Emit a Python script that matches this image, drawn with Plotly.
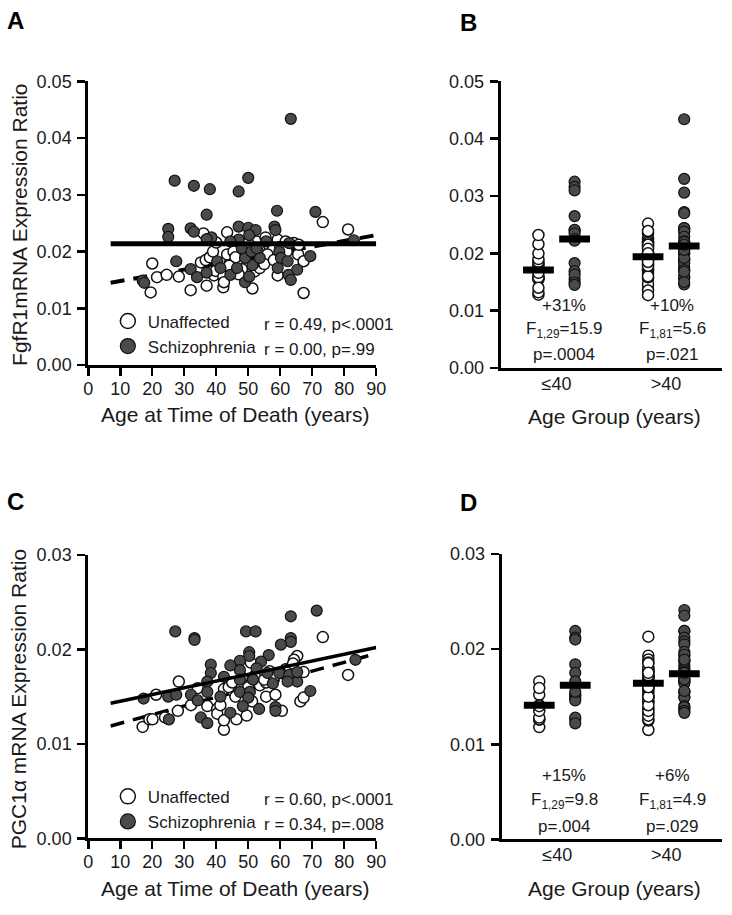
import plotly.graph_objects as go

W, H = 732, 915

# ---------------- Data: FgfR1 (panel A / B) ----------------
ctrl_age_A = [20, 19.5, 21.5, 24.5, 28.3, 32, 35.2, 36.7, 39.3, 39.8, 38, 39, 40, 37, 36,
              43.4, 42.2, 42.2, 42.4, 43.4, 45.4, 48, 51.3, 52, 52.6, 53.6, 54.6, 55.4, 56.4,
              57.2, 57.7, 59.2, 59.2, 61.7, 64.3, 65.6, 65.8, 67.3, 67.3, 73.3, 81.2,
              46, 48, 50, 53, 56, 60, 62, 44, 47, 55, 58]
ctrl_val_A = [0.0179, 0.0128, 0.0155, 0.0159, 0.0156, 0.0132, 0.0181, 0.0185, 0.0158, 0.0166, 0.0190, 0.0200, 0.0216, 0.0140, 0.0232,
              0.0234, 0.0156, 0.0137, 0.0146, 0.0195, 0.0200, 0.0169, 0.0135, 0.0165, 0.0218, 0.0171, 0.0180, 0.0225, 0.0212,
              0.0189, 0.0203, 0.0158, 0.0221, 0.0218, 0.0215, 0.0195, 0.0212, 0.0183, 0.0127, 0.0252, 0.0239,
              0.0190, 0.0210, 0.0215, 0.0200, 0.0195, 0.0208, 0.0200, 0.0175, 0.0160, 0.0178, 0.0185]
sz_age_A = [63.3, 27, 33, 38, 47, 50, 37, 59, 71, 25, 25, 32, 33, 38.5, 47, 50, 52.3, 58.2, 58.5,
            50.3, 47, 44.4, 55.6, 83, 27.5, 32, 34, 37, 40.3, 41.3, 44.4, 46.5, 49, 50.3, 51.3, 53.6,
            49, 48, 51, 59.7, 60.2, 62.3, 59.2, 62.6, 63.3, 65.3, 69.4, 17, 17.5, 37, 52.6, 62.8]
sz_val_A = [0.0434, 0.0325, 0.0316, 0.0310, 0.0306, 0.0330, 0.0265, 0.0272, 0.0270, 0.0240, 0.0226, 0.0241, 0.0235, 0.0225,
            0.0244, 0.0242, 0.0238, 0.0244, 0.0238, 0.0229, 0.0221, 0.0218, 0.0218, 0.0220, 0.0183, 0.0169, 0.0155, 0.0163,
            0.0183, 0.0171, 0.0159, 0.0171, 0.0146, 0.0156, 0.0176, 0.0189, 0.0189, 0.0206, 0.0200, 0.0200, 0.0189, 0.0183,
            0.0171, 0.0159, 0.0150, 0.0168, 0.0192, 0.0149, 0.0145, 0.0222, 0.0206, 0.0215]
fit_age = [7, 90]
ctrl_fit_A = [0.0145, 0.0229]
sz_fit_A = [0.0214, 0.0214]

# ---------------- Data: PGC1a (panel C / D) ----------------
ctrl_age_C = [73.3, 81.2, 65.3, 64.3, 67.3, 66.3, 67.3, 28.3, 21.2, 17, 19.1, 20.1, 24, 28, 32.1, 37.2,
              40.3, 40.3, 42.4, 42.4, 46.3, 49.5, 60.5, 55.6, 58.5, 51.2, 45.4, 42.4, 53.6, 56.7, 61.7,
              50.8, 34.2, 43.9, 55.6, 41.3, 45, 48, 52, 55, 58, 62, 46, 50, 63, 64, 60]
ctrl_val_C = [0.0213, 0.0173, 0.0193, 0.0189, 0.0176, 0.0145, 0.0149, 0.0166, 0.0152, 0.0118, 0.0126, 0.0126, 0.0128, 0.0135, 0.0141, 0.0140,
              0.0137, 0.0132, 0.0115, 0.0125, 0.0126, 0.0130, 0.0135, 0.0150, 0.0152, 0.0145, 0.0155, 0.0158, 0.0162, 0.0177, 0.0179,
              0.0186, 0.0159, 0.0160, 0.0165, 0.0141, 0.0165, 0.0170, 0.0172, 0.0168, 0.0170, 0.0172, 0.0150, 0.0160, 0.0180, 0.0185, 0.0175]
sz_age_C = [71.4, 63.3, 27.2, 33.2, 33.2, 49.3, 52.3, 63.3, 63.3, 60.2, 50.3, 50.3, 56.4, 47.4, 54, 38.3, 44.4,
            38.3, 52.6, 47.4, 42.4, 51.5, 59.7, 62.8, 65.3, 62.3, 57.7, 37.2, 47.4, 17.3, 25, 27.5, 32.1, 34.2,
            41.3, 37.2, 47.4, 50.5, 50, 48.3, 53.4, 58.5, 58.5, 44.4, 25.2, 35.2, 37.2, 69.4, 83.5, 65.3, 56]
sz_val_C = [0.0241, 0.0235, 0.0219, 0.0212, 0.0210, 0.0219, 0.0219, 0.0212, 0.0208, 0.0205, 0.0197, 0.0193, 0.0194, 0.0188, 0.0187, 0.0184, 0.0183,
            0.0175, 0.0180, 0.0178, 0.0171, 0.0168, 0.0175, 0.0173, 0.0166, 0.0166, 0.0164, 0.0166, 0.0168, 0.0148, 0.0150, 0.0152, 0.0152, 0.0146,
            0.0150, 0.0155, 0.0155, 0.0155, 0.0149, 0.0140, 0.0137, 0.0139, 0.0135, 0.0133, 0.0126, 0.0128, 0.0122, 0.0156, 0.0189, 0.0176, 0.0175]
ctrl_fit_C = [0.0119, 0.01955]
sz_fit_C = [0.0143, 0.0202]

# ---------------- Group summaries (panels B / D) ----------------
group_labels = ["≤40", ">40"]
age_cut = 40
ctrl_mean_B = [0.0171, 0.0194]
sz_mean_B = [0.0225, 0.0213]
ctrl_mean_D = [0.0141, 0.0164]
sz_mean_D = [0.0162, 0.0174]
pct_B = ["+31%", "+10%"]
F_B = ["F<sub>1,29</sub>=15.9", "F<sub>1,81</sub>=5.6"]
p_B = ["p=.0004", "p=.021"]
pct_D = ["+15%", "+6%"]
F_D = ["F<sub>1,29</sub>=9.8", "F<sub>1,81</sub>=4.9"]
p_D = ["p=.004", "p=.029"]
r_A = ["r = 0.49, p<.0001", "r = 0.00, p=.99"]
r_C = ["r = 0.60, p<.0001", "r = 0.34, p=.008"]
series_names = ["Unaffected", "Schizophrenia"]

# ---------------- styling ----------------
FONT = "Liberation Sans, Arial, sans-serif"
TXT = "#1a1a1a"
CTRL_MK = dict(size=11, color="white", line=dict(color="#111", width=1.5))
SZ_MK = dict(size=11, color="#4a4a4a", line=dict(color="#111", width=1.2))
OFF = 0.165


def px(x):
    return x / W


def py(y):
    return 1 - y / H


def split(ages, vals):
    lo = [v for a, v in zip(ages, vals) if a <= age_cut]
    hi = [v for a, v in zip(ages, vals) if a > age_cut]
    return lo, hi


fig = go.Figure()


def scatter_panel(xa, ya, ca, cv, sa, sv, cfit, sfit, dashw, solidw, legend):
    fig.add_trace(go.Scatter(x=fit_age, y=cfit, mode="lines", xaxis=xa, yaxis=ya,
                             line=dict(color="black", width=dashw, dash="14px,9px"), showlegend=False))
    fig.add_trace(go.Scatter(x=ca, y=cv, mode="markers", xaxis=xa, yaxis=ya, marker=CTRL_MK, showlegend=False))
    fig.add_trace(go.Scatter(x=sa, y=sv, mode="markers", xaxis=xa, yaxis=ya, marker=SZ_MK, showlegend=False))
    fig.add_trace(go.Scatter(x=fit_age, y=sfit, mode="lines", xaxis=xa, yaxis=ya,
                             line=dict(color="black", width=solidw), showlegend=False))
    # legend glyphs
    fig.add_trace(go.Scatter(x=[None], y=[None], mode="markers", xaxis=xa, yaxis=ya, name=series_names[0],
                             marker=dict(size=15, color="white", line=dict(color="#111", width=1.5)), legend=legend))
    fig.add_trace(go.Scatter(x=[None], y=[None], mode="markers", xaxis=xa, yaxis=ya, name=series_names[1],
                             marker=dict(size=15, color="#4a4a4a", line=dict(color="#111", width=1.2)), legend=legend))


def group_panel(xa, ya, ca, cv, sa, sv, cmean, smean):
    clo, chi = split(ca, cv)
    slo, shi = split(sa, sv)
    for gi, (cvals, svals) in enumerate([(clo, slo), (chi, shi)]):
        g = gi + 1
        fig.add_trace(go.Scatter(x=[g - OFF] * len(cvals), y=cvals, mode="markers", xaxis=xa, yaxis=ya,
                                 marker=CTRL_MK, showlegend=False))
        fig.add_trace(go.Scatter(x=[g + OFF] * len(svals), y=svals, mode="markers", xaxis=xa, yaxis=ya,
                                 marker=SZ_MK, showlegend=False))
    xs = [1 - OFF, 2 - OFF, 1 + OFF, 2 + OFF]
    fig.add_trace(go.Scatter(x=xs, y=cmean + smean, mode="markers", xaxis=xa, yaxis=ya,
                             marker=dict(symbol="line-ew", size=22, color="black",
                                         line=dict(color="black", width=7)), showlegend=False))


scatter_panel("x", "y", ctrl_age_A, ctrl_val_A, sz_age_A, sz_val_A, ctrl_fit_A, sz_fit_A, 4, 5, "legend")
group_panel("x2", "y2", ctrl_age_A, ctrl_val_A, sz_age_A, sz_val_A, ctrl_mean_B, sz_mean_B)
scatter_panel("x3", "y3", ctrl_age_C, ctrl_val_C, sz_age_C, sz_val_C, ctrl_fit_C, sz_fit_C, 3.5, 3.5, "legend2")
group_panel("x4", "y4", ctrl_age_C, ctrl_val_C, sz_age_C, sz_val_C, ctrl_mean_D, sz_mean_D)

ax_common = dict(showgrid=False, zeroline=False, showline=True, linecolor="black", linewidth=3,
                 tickcolor="black", tickwidth=2.5, ticklen=8, ticks="outside",
                 tickfont=dict(size=18, color=TXT, family=FONT))
xax = dict(ax_common, ticklabelstandoff=-3)
yax = dict(ax_common, ticklabelstandoff=2)

age_ticks = list(range(0, 91, 10))
fig.update_layout(
    xaxis=dict(xax, domain=[px(85), px(379)], range=[0, 90], tickvals=age_ticks, anchor="y"),
    yaxis=dict(yax, domain=[py(363), py(73)], range=[0, 0.05], tickvals=[0, 0.01, 0.02, 0.03, 0.04, 0.05],
               tickformat=".2f", anchor="x"),
    xaxis2=dict(xax, domain=[px(506), 1.0], range=[0.49, 2.51], tickvals=[1, 2], ticktext=group_labels,
                ticks="", anchor="y2"),
    yaxis2=dict(yax, domain=[py(366), py(73)], range=[0, 0.05], tickvals=[0, 0.01, 0.02, 0.03, 0.04, 0.05],
                tickformat=".2f", anchor="x2"),
    xaxis3=dict(xax, domain=[px(85), px(379)], range=[0, 90], tickvals=age_ticks, anchor="y3"),
    yaxis3=dict(yax, domain=[py(847), py(557)], range=[0, 0.03], tickvals=[0, 0.01, 0.02, 0.03],
                tickformat=".2f", anchor="x3"),
    xaxis4=dict(xax, domain=[px(507), 1.0], range=[0.49, 2.51], tickvals=[1, 2], ticktext=group_labels,
                ticks="", anchor="y4"),
    yaxis4=dict(yax, domain=[py(848), py(556)], range=[0, 0.03], tickvals=[0, 0.01, 0.02, 0.03],
                tickformat=".2f", anchor="x4"),
    width=W, height=H, margin=dict(l=0, r=0, t=0, b=0),
    paper_bgcolor="white", plot_bgcolor="white",
    font=dict(family=FONT, color=TXT, size=17),
    legend=dict(x=px(105), y=py(300), xanchor="left", yanchor="top", bgcolor="rgba(0,0,0,0)",
                font=dict(size=17, color=TXT, family=FONT), itemsizing="trace", tracegroupgap=0),
    legend2=dict(x=px(105), y=py(786), xanchor="left", yanchor="top", bgcolor="rgba(0,0,0,0)",
                 font=dict(size=17, color=TXT, family=FONT), itemsizing="trace", tracegroupgap=0),
)

ann = []


def text(x, y, s, size=17, xanchor="center", angle=0, bold=False):
    ann.append(dict(x=px(x), y=py(y), xref="paper", yref="paper", text=("<b>%s</b>" % s) if bold else s,
                    showarrow=False, xanchor=xanchor, yanchor="middle", textangle=angle,
                    font=dict(size=size, color="black" if bold else TXT, family=FONT)))


# panel letters
text(11, 11, "A", 24, bold=True)
text(473, 13, "B", 24, bold=True)
text(11, 502, "C", 24, bold=True)
text(473, 504, "D", 24, bold=True)
# axis titles
text(14, 220, "FgfR1mRNA Expression Ratio", 21, angle=-90)
text(235, 414, "Age at Time of Death (years)", 21)
text(622, 416, "Age Group (years)", 21)
text(14, 705, "PGC1α mRNA Expression Ratio", 21, angle=-90)
text(235, 898, "Age at Time of Death (years)", 21)
text(622, 898, "Age Group (years)", 21)
# correlation stats
text(262, 322, r_A[0], xanchor="left")
text(262, 347, r_A[1], xanchor="left")
text(262, 807, r_C[0], xanchor="left")
text(262, 833, r_C[1], xanchor="left")
# group stats
for i, cx in enumerate([571, 681]):
    text(cx, 302, pct_B[i])
    text(cx, 327, F_B[i])
    text(cx, 352, p_B[i])
    text(cx, 783, pct_D[i])
    text(cx, 809, F_D[i])
    text(cx, 835, p_D[i])

fig.update_layout(annotations=ann)
fig.write_html("out.html", config={"displayModeBar": False, "staticPlot": True},
               post_script="document.body.style.margin='0';document.body.style.overflow='hidden';")
